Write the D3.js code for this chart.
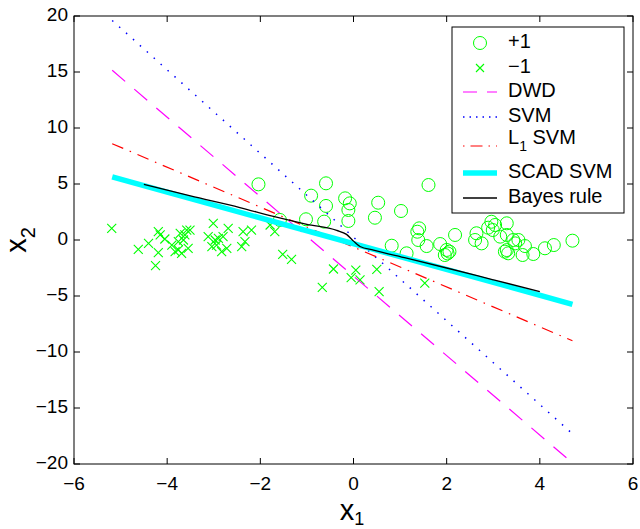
<!DOCTYPE html>
<html lang="en-US">
<head>
<meta charset="utf-8">
<title>SCAD SVM decision boundaries</title>
<script src="https://cdn.jsdelivr.net/npm/d3@7"></script>
<style>
  body { margin: 0; background: #fff; }
  text { font-family: "Liberation Sans", Arial, sans-serif; }
</style>
</head>
<body>
<div class="chart"></div>
<script>
// +1 class (circles) and -1 class (crosses)
const pos_x = [-2.04, -0.59, 1.61, -0.91, -0.18, -0.59, -0.08, -0.11, 0.53, 1.02,
               0.46, -0.11, -0.63, -1.02, -1.58, 1.41, 1.37, 1.39, 1.57, 0.82,
               1.14, 1.86, 2.18, 2.0, 1.96, 2.06, 2.02, 2.64, 2.61, 2.75,
               3.04, 2.99, 2.96, 3.29, 3.15, 3.29, 3.43, 3.47, 3.29, 3.32,
               3.25, 3.54, 3.68, 3.63, 3.86, 4.11, 4.30, 4.70, 2.89];
const pos_y = [4.97, 5.06, 4.91, 3.96, 3.72, 3.04, 3.27, 2.68, 3.33, 2.59,
               1.99, 1.70, 1.64, 1.85, 1.79, 1.04, 0.74, 0.0, -0.54, -0.51,
               -1.19, -0.36, 0.45, -0.89, -1.34, -1.04, -1.2, 0.6, 0.0, -0.3,
               1.34, 0.89, 1.63, 1.49, 0.3, 0.45, 0.0, -0.3, -0.9, -1.19,
               -1.04, 0.0, -0.54, -1.34, -1.25, -0.74, -0.45, -0.06, 1.1];
const neg_x = [-5.19, -4.62, -4.40, -4.25, -4.19, -4.19, -4.15, -4.05, -3.90, -3.83,
               -3.76, -3.69, -3.72, -3.62, -3.58, -3.51, -3.65, -3.55, -3.76, -3.12,
               -3.01, -3.04, -2.97, -2.94, -2.90, -2.83, -2.80, -2.72, -2.69, -2.40,
               -2.33, -2.37, -2.19, -1.79, -1.69, -1.52, -1.33, -0.43, 0.05, 0.50,
               -0.05, 0.14, -0.67, 0.55, 1.53];
const neg_y = [1.04, -0.83, -0.30, -2.29, -1.13, 0.74, 0.45, 0.09, -0.45, -1.04,
               -0.89, -1.19, 0.6, 0.45, 0.89, 0.89, 0.0, -0.74, -0.15, 0.3,
               1.49, -0.6, 0.0, -0.45, 0.15, -1.04, 0.3, -0.74, 1.04, -0.6,
               -0.15, 0.74, 0.89, 1.34, 0.74, -1.28, -1.72, -2.59, -2.68, -2.62,
               -3.36, -3.57, -4.23, -4.61, -3.85];

// fitted boundaries: end points [x, y]
const dwd_line = [[-5.18, 15.15], [4.7, -19.9]];
const svm_line = [[-5.18, 19.6], [4.7, -17.3]];
const l1_line = [[-5.18, 8.6], [4.7, -9.0]];
const scad_line = [[-5.18, 5.63], [4.7, -5.74]];
const bayes_line = [[-4.5, 4.97], [-3.5, 3.93], [-2.44, 2.9], [-1.72, 2.1], [-1.0, 1.4],
                    [-0.36, 0.85], [-0.15, 0.5], [0, -0.1], [0.14, -0.58], [0.43, -0.9],
                    [1.14, -1.62], [2.0, -2.5], [3.0, -3.55], [4.0, -4.6]];

const x_ticks = [-6, -4, -2, 0, 2, 4, 6];
const y_ticks = [-20, -15, -10, -5, 0, 5, 10, 15, 20];
const legend_labels = ["+1", "\u22121", "DWD", "SVM", "L1 SVM", "SCAD SVM", "Bayes rule"];

const m_left = 74, m_right = 633, m_top = 16, m_bottom = 464;
const fsize = 19;

let svg = d3.select(".chart")
    .append("svg")
    .attr("width", 640)
    .attr("height", 529);

let x = d3.scaleLinear().domain([-6, 6]).range([m_left, m_right]);
let y = d3.scaleLinear().domain([-20, 20]).range([m_bottom, m_top]);

svg.append("clipPath")
    .attr("id", "plotclip")
    .append("rect")
    .attr("x", m_left)
    .attr("y", m_top)
    .attr("width", m_right - m_left)
    .attr("height", m_bottom - m_top);

let plot = svg.append("g").attr("clip-path", "url(#plotclip)");

// circles
plot.append("g")
    .selectAll("circle")
    .data(d3.range(pos_x.length))
    .join("circle")
    .attr("cx", i => x(pos_x[i]))
    .attr("cy", i => y(pos_y[i]))
    .attr("r", 6.5)
    .attr("fill", "none")
    .attr("stroke", "#00ff00")
    .attr("stroke-width", 1);

// crosses
let cross = (cx, cy, s) => `M${cx - s},${cy - s}L${cx + s},${cy + s}M${cx - s},${cy + s}L${cx + s},${cy - s}`;
plot.append("g")
    .selectAll("path")
    .data(d3.range(neg_x.length))
    .join("path")
    .attr("d", i => cross(x(neg_x[i]), y(neg_y[i]), 4.5))
    .attr("fill", "none")
    .attr("stroke", "#00ff00")
    .attr("stroke-width", 1.1);

let line = d3.line().x(d => x(d[0])).y(d => y(d[1]));

const styles = [
    {data: dwd_line, color: "#ff00ff", width: 1.2, dash: "17,12"},
    {data: svm_line, color: "#0000ff", width: 1.5, dash: "1.5,7.8"},
    {data: l1_line, color: "#ff0000", width: 1.2, dash: "12,7,1.5,7"},
    {data: scad_line, color: "#00ffff", width: 5.5, dash: null},
];
styles.forEach(s => {
    plot.append("path")
        .attr("d", line(s.data))
        .attr("fill", "none")
        .attr("stroke", s.color)
        .attr("stroke-width", s.width)
        .attr("stroke-dasharray", s.dash);
});

plot.append("path")
    .attr("d", line.curve(d3.curveMonotoneX)(bayes_line))
    .attr("fill", "none")
    .attr("stroke", "black")
    .attr("stroke-width", 1.3);

// box and ticks
svg.append("rect")
    .attr("x", m_left)
    .attr("y", m_top)
    .attr("width", m_right - m_left)
    .attr("height", m_bottom - m_top)
    .attr("fill", "none")
    .attr("stroke", "black")
    .attr("stroke-width", 1);

const tlen = 6;
x_ticks.forEach(t => {
    svg.append("path")
        .attr("d", `M${x(t)},${m_bottom}v${-tlen}M${x(t)},${m_top}v${tlen}`)
        .attr("stroke", "black");
    svg.append("text")
        .attr("x", x(t))
        .attr("y", m_bottom + 21)
        .attr("text-anchor", "middle")
        .attr("dominant-baseline", "middle")
        .attr("font-size", fsize)
        .text(String(t).replace("-", "\u2212"));
});
y_ticks.forEach(t => {
    svg.append("path")
        .attr("d", `M${m_left},${y(t)}h${tlen}M${m_right},${y(t)}h${-tlen}`)
        .attr("stroke", "black");
    svg.append("text")
        .attr("x", m_left - 6)
        .attr("y", y(t))
        .attr("text-anchor", "end")
        .attr("dominant-baseline", "middle")
        .attr("font-size", fsize)
        .text(String(t).replace("-", "\u2212"));
});

// axis labels
let xl = svg.append("text")
    .attr("x", 352)
    .attr("y", 520)
    .attr("text-anchor", "middle")
    .attr("font-size", 29);
xl.append("tspan").text("x");
xl.append("tspan").attr("dy", 5).attr("font-size", 18).text("1");

let yl = svg.append("text")
    .attr("transform", "translate(26, 240) rotate(-90)")
    .attr("text-anchor", "middle")
    .attr("font-size", 29);
yl.append("tspan").text("x");
yl.append("tspan").attr("dy", 9).attr("font-size", 20).text("2");

// legend
let lg = svg.append("g");
lg.append("rect")
    .attr("x", 452)
    .attr("y", 27)
    .attr("width", 172)
    .attr("height", 186)
    .attr("fill", "white")
    .attr("stroke", "black")
    .attr("stroke-width", 1);

const row_y = [43, 68, 92, 117, 142, 173, 198];
lg.append("circle")
    .attr("cx", 480).attr("cy", row_y[0]).attr("r", 6.5)
    .attr("fill", "none").attr("stroke", "#00ff00");
lg.append("path")
    .attr("d", cross(480, row_y[1], 4))
    .attr("stroke", "#00ff00").attr("stroke-width", 1.1);
const legend_lines = [
    {color: "#ff00ff", width: 1.2, dash: "14,10"},
    {color: "#0000ff", width: 1.5, dash: "1.5,5"},
    {color: "#ff0000", width: 1.2, dash: "1.5,6,12,6"},
    {color: "#00ffff", width: 5.5, dash: null},
    {color: "black", width: 1.3, dash: null},
];
legend_lines.forEach((s, i) => {
    let ly = row_y[i + 2] + (i == 2 ? 4 : 0);
    lg.append("path")
        .attr("d", `M463,${ly}H497`)
        .attr("stroke", s.color)
        .attr("stroke-width", s.width)
        .attr("stroke-dasharray", s.dash);
});
legend_labels.forEach((lab, i) => {
    let t = lg.append("text")
        .attr("x", 508)
        .attr("y", row_y[i] + (i == 4 ? -3 : 0))
        .attr("dominant-baseline", "middle")
        .attr("font-size", 20);
    if (lab == "L1 SVM") {
        t.append("tspan").text("L");
        t.append("tspan").attr("dy", 8).attr("font-size", 14).text("1");
        t.append("tspan").attr("dy", -8).text(" SVM");
    } else {
        t.text(lab);
    }
});
</script>
</body>
</html>
